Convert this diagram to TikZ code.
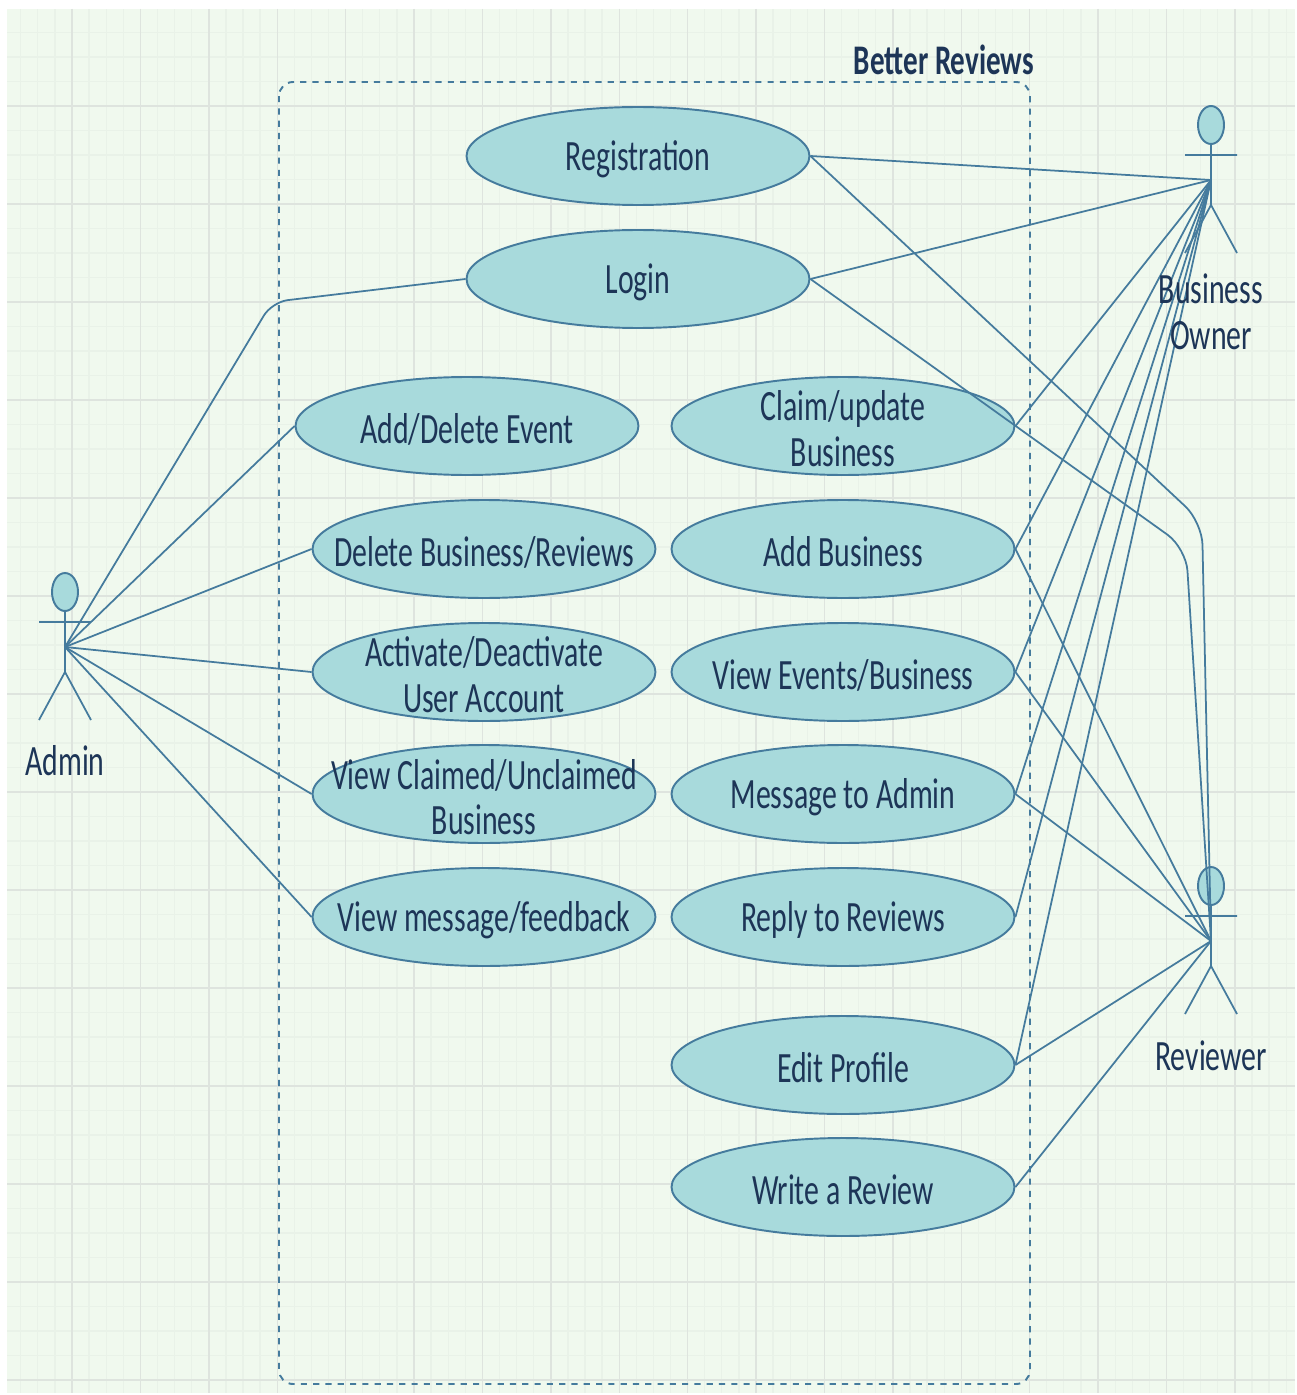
\documentclass[tikz,border=0pt]{standalone}
\usepackage{fontspec}
\setmainfont[FakeStretch=0.69]{Carlito}
\usetikzlibrary{shapes.geometric}
\definecolor{paper}{HTML}{F0F9EE}
\definecolor{gridminor}{HTML}{E9F2E8}
\definecolor{gridmajor}{HTML}{DEE4DE}
\definecolor{strokeblue}{HTML}{457B9D}
\definecolor{fillteal}{HTML}{A8DADC}
\definecolor{inknavy}{HTML}{1D3557}
\tikzset{
	usecasestyle/.style={ellipse,draw=strokeblue,fill=fillteal,line width=1.1pt,minimum width=6.86cm,minimum height=1.96cm,inner sep=0pt},
	headstyle/.style={ellipse,draw=strokeblue,fill=fillteal,line width=1.1pt,minimum width=0.52cm,minimum height=0.76cm,inner sep=0pt},
	labelstyle/.style={text=inknavy,align=center,inner sep=0pt,yshift=-1.7pt,font=\fontsize{24.6}{26}\selectfont},
	titlestyle/.style={text=inknavy,inner sep=0pt,font=\fontsize{24}{26}\selectfont\bfseries},
	linkstyle/.style={draw=strokeblue,line width=1pt},
	boxstyle/.style={draw=strokeblue,line width=1.1pt,dash pattern=on 3.5pt off 3.5pt,rounded corners=8pt}
}
\begin{document}
\begin{tikzpicture}[x=0.02cm,y=-0.02cm]
	\useasboundingbox (0,0) rectangle (1297,1395);
	\fill[paper] (7,9) rectangle (1295,1393);
	% grid
	\foreach \x in {20.7,37.8,...,1295}
	\draw[gridminor,line width=0.7pt] (\x,9)--(\x,1393);
	\foreach \y in {32.5,57,...,1393}
	\draw[gridminor,line width=0.7pt] (7,\y)--(1295,\y);
	\foreach \x in {72,140.4,...,1295}
	\draw[gridmajor,line width=0.8pt] (\x,9)--(\x,1393);
	\foreach \y in {106,204,...,1393}
	\draw[gridmajor,line width=0.8pt] (7,\y)--(1295,\y);
	\draw[boxstyle] (279,82) rectangle (1030,1384);
	\node[titlestyle] (title) at (944,60) {Better Reviews};
	% use cases
	\foreach \n/\x/\y in {reg/638/156,login/638/279,addevent/467/426,delbiz/484/549,activate/484/672,viewclaimed/484/794,viewmsg/484/917,claim/843/426,addbiz/843/549,viewevents/843/672,msgadmin/843/794,reply/843/917,profile/843/1065,review/843/1187}
	\node[usecasestyle] (\n) at (\x,\y) {};
	% actors
	\foreach \n/\x/\y in {admin/65/647,owner/1211/180,reviewer/1211/941}
	{
		\coordinate (\n) at (\x,\y);
		\coordinate (\n arml) at (\x-26,\y-25);
		\coordinate (\n armr) at (\x+26,\y-25);
		\coordinate (\n hip) at (\x,\y+25);
		\coordinate (\n legl) at (\x-26,\y+73);
		\coordinate (\n legr) at (\x+26,\y+73);
		\node[headstyle] (\n head) at (\x,\y-55) {};
		\draw[linkstyle] (\n head.south)--(\n hip) (\n arml)--(\n armr) (\n legl)--(\n hip)--(\n legr);
	}
	% links
	\foreach \n in {addevent,delbiz,activate,viewclaimed,viewmsg}
	\draw[linkstyle] (admin)--(\n.west);
	\draw[linkstyle,rounded corners=9pt] (admin)--(272,302)--(login.west);
	\foreach \n in {reg,login,claim,addbiz,viewevents,msgadmin,reply,profile}
	\draw[linkstyle] (owner)--(\n.east);
	\foreach \n in {addbiz,viewevents,msgadmin,profile,review}
	\draw[linkstyle] (reviewer)--(\n.east);
	\draw[linkstyle,rounded corners=13pt] (reg.east)--(1202,522)--(reviewer);
	\draw[linkstyle,rounded corners=13pt] (login.east)--(1186,548)--(reviewer);
	% labels
	\node[labelstyle] (reg text) at (reg) {Registration};
	\node[labelstyle] (login text) at (login) {Login};
	\node[labelstyle] (addevent text) at (addevent) {Add/Delete Event};
	\node[labelstyle] (delbiz text) at (delbiz) {Delete Business/Reviews};
	\node[labelstyle] (activate text) at (activate) {Activate/Deactivate\\User Account};
	\node[labelstyle] (viewclaimed text) at (viewclaimed) {View Claimed/Unclaimed\\Business};
	\node[labelstyle] (viewmsg text) at (viewmsg) {View message/feedback};
	\node[labelstyle] (claim text) at (claim) {Claim/update\\Business};
	\node[labelstyle] (addbiz text) at (addbiz) {Add Business};
	\node[labelstyle] (viewevents text) at (viewevents) {View Events/Business};
	\node[labelstyle] (msgadmin text) at (msgadmin) {Message to Admin};
	\node[labelstyle] (reply text) at (reply) {Reply to Reviews};
	\node[labelstyle] (profile text) at (profile) {Edit Profile};
	\node[labelstyle] (review text) at (review) {Write a Review};
	\node[labelstyle] (admin text) at (65,758) {Admin};
	\node[labelstyle] (owner text) at (1211,309) {Business\\Owner};
	\node[labelstyle] (reviewer text) at (1211,1053) {Reviewer};
\end{tikzpicture}
\end{document}
